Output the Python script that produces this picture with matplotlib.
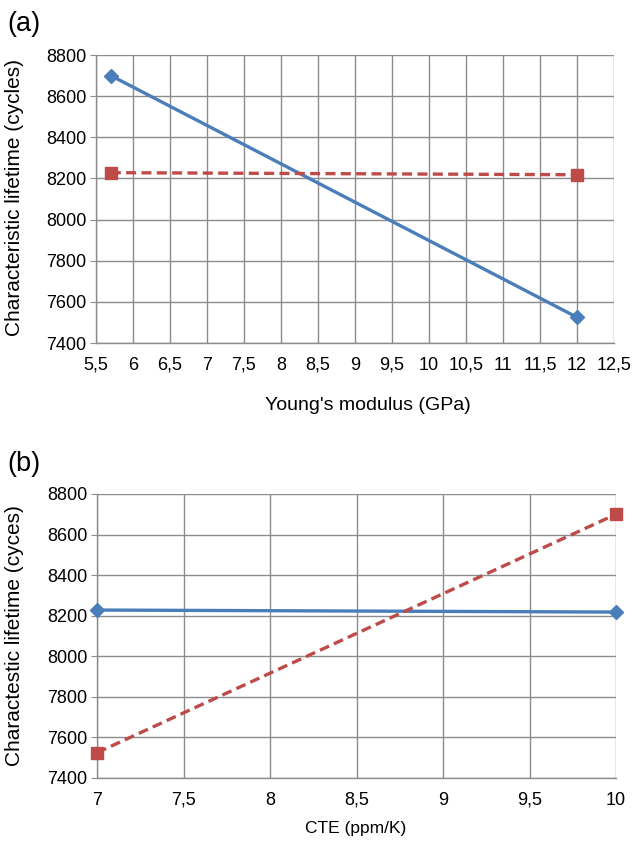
import matplotlib
matplotlib.use("Agg")
import matplotlib.pyplot as plt
from matplotlib.ticker import FuncFormatter

plt.rcParams['font.family'] = ['Liberation Sans', 'DejaVu Sans']

# Panel (a)
a_x = [5.7, 12.0]
a_blue = [8700, 7525]
a_red = [8228, 8218]
a_xticks = [5.5, 6, 6.5, 7, 7.5, 8, 8.5, 9, 9.5, 10, 10.5, 11, 11.5, 12, 12.5]

# Panel (b)
b_x = [7.0, 10.0]
b_blue = [8228, 8218]
b_red = [7525, 8700]
b_xticks = [7, 7.5, 8, 8.5, 9, 9.5, 10]

yticks = [7400, 7600, 7800, 8000, 8200, 8400, 8600, 8800]

BLUE = '#4A7EBB'
RED = '#BE4B48'
GRID = '#8C8C8C'
W, H = 635, 849

fig = plt.figure(figsize=(6.35, 8.49), dpi=100)
ax1 = fig.add_axes([96/W, 1-343/H, (614-96)/W, (343-55)/H])
ax2 = fig.add_axes([97/W, 1-778/H, (616-97)/W, (778-494)/H])

fmt = FuncFormatter(lambda v, p: ('%g' % v).replace('.', ','))

def style(ax, xticks, xlim):
    ax.set_xlim(*xlim)
    ax.set_ylim(7400, 8800)
    ax.set_xticks(xticks)
    ax.set_yticks(yticks)
    ax.xaxis.set_major_formatter(fmt)
    ax.grid(True, color=GRID, linewidth=1.0)
    ax.set_axisbelow(True)
    for s in ['top', 'right']:
        ax.spines[s].set_visible(False)
    for s in ['left', 'bottom']:
        ax.spines[s].set_color(GRID)
        ax.spines[s].set_linewidth(1.0)
    ax.tick_params(axis='x', length=0, pad=10, labelsize=13)
    ax.tick_params(axis='y', length=4, color=GRID, pad=3, labelsize=13)

ax1.plot(a_x, a_blue, color=BLUE, lw=2.4, marker='D', ms=7, clip_on=False, zorder=3)
ax1.plot(a_x, a_red, color=RED, lw=2.4, ls=(0, (3, 1.6)), marker='s', ms=9, clip_on=False, zorder=3)
style(ax1, a_xticks, (5.5, 12.5))

ax2.plot(b_x, b_blue, color=BLUE, lw=2.4, marker='D', ms=7, clip_on=False, zorder=3)
ax2.plot(b_x, b_red, color=RED, lw=2.4, ls=(0, (3, 1.6)), marker='s', ms=9, clip_on=False, zorder=3)
style(ax2, b_xticks, (7, 10))

fig.text(15/W, 1-198/H, "Characteristic lifetime (cycles)", fontsize=15,
         rotation=90, ha='center', va='center')
fig.text(15/W, 1-636/H, "Charactestic lifetime (cyces)", fontsize=15,
         rotation=90, ha='center', va='center')
fig.text(368/W, 1-405/H, "Young's modulus (GPa)", fontsize=14, ha='center', va='center')
fig.text(356/W, 1-829/H, "CTE (ppm/K)", fontsize=12.5, ha='center', va='center')

fig.text(7/W, 1-24/H, "(a)", fontsize=19.5, va='center', ha='left')
fig.text(7/W, 1-464/H, "(b)", fontsize=19.5, va='center', ha='left')

fig.savefig("out.png", dpi=100)
